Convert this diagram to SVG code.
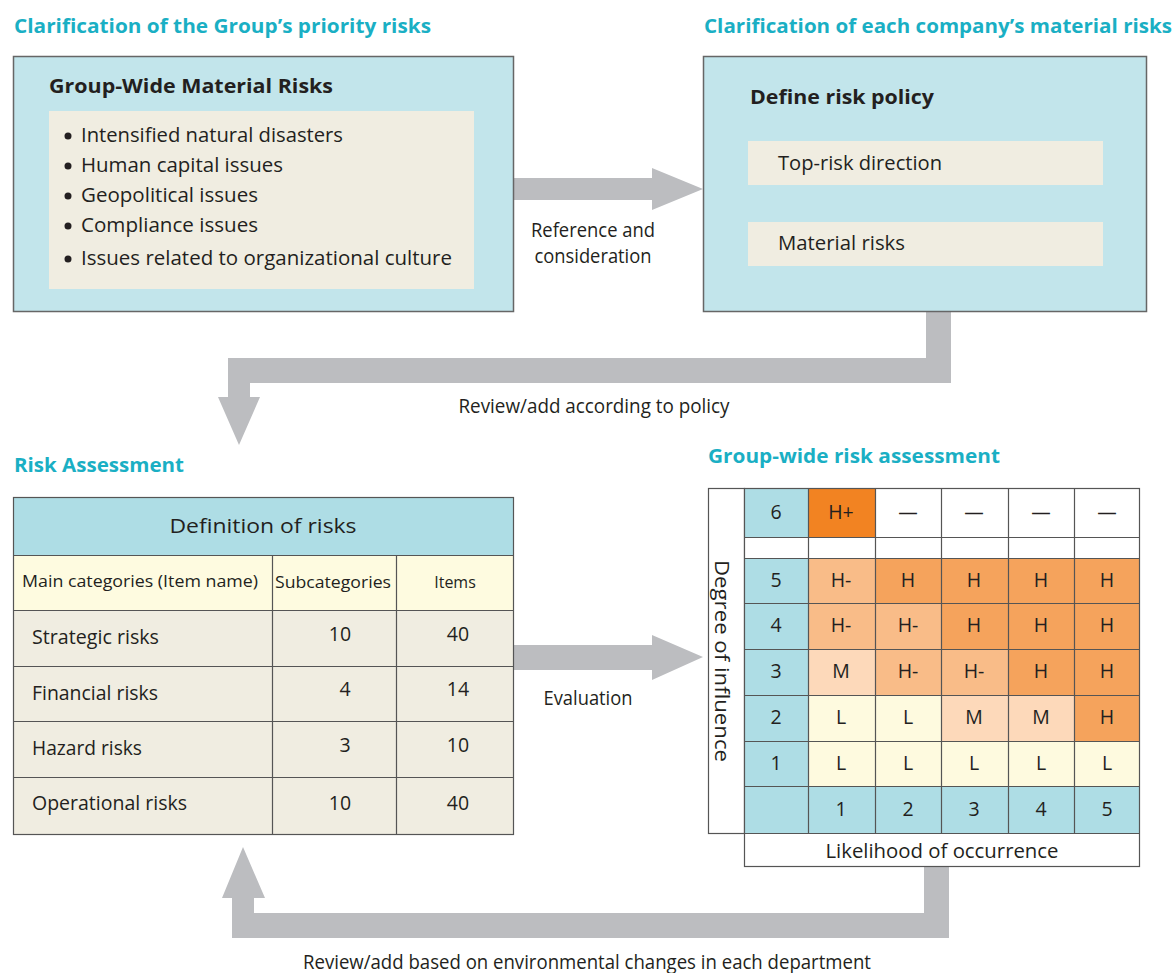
<svg xmlns="http://www.w3.org/2000/svg" width="1176" height="973" viewBox="0 0 1176 973">
<style>
.title{font-family:"Open Sans","Noto Sans",sans-serif;font-weight:700;font-size:19.5px;fill:#1AAFC4}
.bold{font-family:"Open Sans","Noto Sans",sans-serif;font-weight:700;font-size:20px;fill:#231F20}
.t{font-family:"Open Sans","Noto Sans",sans-serif;font-size:19.5px;fill:#231F20}
.b{font-family:"Open Sans","Noto Sans",sans-serif;font-size:20.2px;fill:#231F20}
.s{font-family:"Open Sans","Noto Sans",sans-serif;font-size:16px;fill:#231F20}
.m{font-family:"Open Sans","Noto Sans",sans-serif;font-size:19.5px;fill:#231F20;text-anchor:middle}
.lbl{font-family:"Open Sans","Noto Sans",sans-serif;font-size:19.5px;fill:#231F20;text-anchor:middle}
.box{fill:#C2E5EB;stroke:#666;stroke-width:1.5}
.beige{fill:#F0EDE1}
.arrow{fill:#BCBDC0}
.g{stroke:#555;stroke-width:1.2}
.teal{fill:#AEDDE5}
.hp{fill:#F28322}.h{fill:#F5A35C}.hm{fill:#F9BC88}.md{fill:#FDD9BA}.l{fill:#FEFADF}.w{fill:#FFFFFF}
</style>

<g id="connectors">
  <path class="arrow" d="M514,178 H652 V168 L703,189 L652,210 V200 H514 Z"/>
  <text class="lbl" x="593" y="237" textLength="124" lengthAdjust="spacingAndGlyphs">Reference and</text>
  <text class="lbl" x="593" y="263" textLength="117" lengthAdjust="spacingAndGlyphs">consideration</text>

  <path class="arrow" d="M926,312 H951 V383 H250 V397 H260 L239,445 L218,397 H228 V358 H926 Z"/>
  <text class="lbl" x="594" y="413" textLength="271" lengthAdjust="spacingAndGlyphs">Review/add according to policy</text>

  <path class="arrow" d="M514,645 H652 V635 L703,657 L652,680 V670 H514 Z"/>
  <text class="lbl" x="588" y="705" textLength="89" lengthAdjust="spacingAndGlyphs">Evaluation</text>

  <path class="arrow" d="M924,867 H949 V938 H232 V898 H222 L243,847 L265,898 H254 V913 H924 Z"/>
  <text class="lbl" x="587" y="969" textLength="568" lengthAdjust="spacingAndGlyphs">Review/add based on environmental changes in each department</text>
</g>

<g id="group-risks">
  <text class="title" x="14" y="33" textLength="417" lengthAdjust="spacingAndGlyphs">Clarification of the Group’s priority risks</text>
  <rect class="box" x="13.5" y="56.5" width="500" height="255"/>
  <text class="bold" x="49" y="93" textLength="284" lengthAdjust="spacingAndGlyphs">Group-Wide Material Risks</text>
  <rect class="beige" x="49" y="111" width="425" height="178"/>
  <g class="b">
    <circle cx="68" cy="136" r="3.5" fill="#231F20"/><text x="81" y="142" textLength="262" lengthAdjust="spacingAndGlyphs">Intensified natural disasters</text>
    <circle cx="68" cy="166" r="3.5" fill="#231F20"/><text x="81" y="172" textLength="202" lengthAdjust="spacingAndGlyphs">Human capital issues</text>
    <circle cx="68" cy="196" r="3.5" fill="#231F20"/><text x="81" y="202" textLength="177" lengthAdjust="spacingAndGlyphs">Geopolitical issues</text>
    <circle cx="68" cy="226" r="3.5" fill="#231F20"/><text x="81" y="232" textLength="177" lengthAdjust="spacingAndGlyphs">Compliance issues</text>
    <circle cx="68" cy="259" r="3.5" fill="#231F20"/><text x="81" y="265" textLength="371" lengthAdjust="spacingAndGlyphs">Issues related to organizational culture</text>
  </g>
</g>

<g id="company-risks">
  <text class="title" x="704" y="33" textLength="468" lengthAdjust="spacingAndGlyphs">Clarification of each company’s material risks</text>
  <rect class="box" x="703.5" y="56.5" width="443" height="255"/>
  <text class="bold" x="750" y="104" textLength="184" lengthAdjust="spacingAndGlyphs">Define risk policy</text>
  <rect class="beige" x="748" y="141" width="355" height="44"/>
  <text class="t" x="778" y="170" textLength="164" lengthAdjust="spacingAndGlyphs">Top-risk direction</text>
  <rect class="beige" x="748" y="222" width="355" height="44"/>
  <text class="t" x="778" y="250" textLength="127" lengthAdjust="spacingAndGlyphs">Material risks</text>
</g>

<g id="risk-assessment">
  <text class="title" x="14" y="472" textLength="170" lengthAdjust="spacingAndGlyphs">Risk Assessment</text>
  <rect class="teal" x="13" y="497" width="501" height="58"/>
  <rect fill="#FEFBE0" x="13" y="555" width="501" height="55"/>
  <rect class="beige" x="13" y="610" width="501" height="225"/>
  <g class="g" fill="none">
    <rect x="13.5" y="497.5" width="500" height="337"/>
    <line x1="13" y1="555.5" x2="514" y2="555.5"/>
    <line x1="13" y1="610.5" x2="514" y2="610.5"/>
    <line x1="13" y1="666.5" x2="514" y2="666.5"/>
    <line x1="13" y1="721.5" x2="514" y2="721.5"/>
    <line x1="13" y1="777.5" x2="514" y2="777.5"/>
    <line x1="272.5" y1="555" x2="272.5" y2="835"/>
    <line x1="396.5" y1="555" x2="396.5" y2="835"/>
  </g>
  <text class="lbl" x="263" y="533" textLength="187" lengthAdjust="spacingAndGlyphs">Definition of risks</text>
  <text class="s" x="22" y="587" textLength="236" lengthAdjust="spacingAndGlyphs">Main categories (Item name)</text>
  <text class="s" x="333" y="588" text-anchor="middle" textLength="116" lengthAdjust="spacingAndGlyphs">Subcategories</text>
  <text class="s" x="455" y="588" text-anchor="middle">Items</text>
  <g class="t">
    <text x="32" y="644" textLength="127" lengthAdjust="spacingAndGlyphs">Strategic risks</text>
    <text x="32" y="700" textLength="126" lengthAdjust="spacingAndGlyphs">Financial risks</text>
    <text x="32" y="755" textLength="110" lengthAdjust="spacingAndGlyphs">Hazard risks</text>
    <text x="32" y="810" textLength="155" lengthAdjust="spacingAndGlyphs">Operational risks</text>
  </g>
  <g class="lbl">
    <text x="340" y="641">10</text><text x="458" y="641">40</text>
    <text x="345" y="696">4</text><text x="458" y="696">14</text>
    <text x="345" y="752">3</text><text x="458" y="752">10</text>
    <text x="340" y="810">10</text><text x="458" y="810">40</text>
  </g>
</g>

<g id="risk-matrix">
  <text class="title" x="708" y="463" textLength="292" lengthAdjust="spacingAndGlyphs">Group-wide risk assessment</text>
  <rect class="w g" x="708.5" y="488.5" width="36" height="345"/>
  <text class="t" transform="translate(715,661) rotate(90)" text-anchor="middle" textLength="202" lengthAdjust="spacingAndGlyphs">Degree of influence</text>
  <rect class="teal" x="744" y="488" width="64" height="49"/>
  <rect class="hp" x="808" y="488" width="67" height="49"/>
  <rect class="w" x="875" y="488" width="265" height="49"/>
  <rect class="w" x="744" y="537" width="396" height="21"/>
  <rect class="teal" x="744" y="558" width="64" height="228"/>
  <rect class="hm" x="808" y="558" width="67" height="45"/>
  <rect class="h" x="875" y="558" width="265" height="45"/>
  <rect class="hm" x="808" y="603" width="133" height="46"/>
  <rect class="h" x="941" y="603" width="199" height="46"/>
  <rect class="md" x="808" y="649" width="67" height="46"/>
  <rect class="hm" x="875" y="649" width="133" height="46"/>
  <rect class="h" x="1008" y="649" width="132" height="46"/>
  <rect class="l" x="808" y="695" width="133" height="46"/>
  <rect class="md" x="941" y="695" width="133" height="46"/>
  <rect class="h" x="1074" y="695" width="66" height="46"/>
  <rect class="l" x="808" y="741" width="332" height="45"/>
  <rect class="teal" x="744" y="786" width="396" height="47"/>
  <rect class="w" x="744" y="833" width="396" height="34"/>
  <g class="g" fill="none">
    <rect x="744.5" y="488.5" width="395" height="378"/>
    <line x1="744" y1="537.5" x2="1140" y2="537.5"/>
    <line x1="744" y1="558.5" x2="1140" y2="558.5"/>
    <line x1="744" y1="603.5" x2="1140" y2="603.5"/>
    <line x1="744" y1="649.5" x2="1140" y2="649.5"/>
    <line x1="744" y1="695.5" x2="1140" y2="695.5"/>
    <line x1="744" y1="741.5" x2="1140" y2="741.5"/>
    <line x1="744" y1="786.5" x2="1140" y2="786.5"/>
    <line x1="708" y1="833.5" x2="1140" y2="833.5"/>
    <line x1="808.5" y1="488" x2="808.5" y2="833"/>
    <line x1="875.5" y1="488" x2="875.5" y2="833"/>
    <line x1="941.5" y1="488" x2="941.5" y2="833"/>
    <line x1="1008.5" y1="488" x2="1008.5" y2="833"/>
    <line x1="1074.5" y1="488" x2="1074.5" y2="833"/>
  </g>
  <g class="m">
    <text x="776" y="519">6</text><text x="841" y="519">H+</text><text x="908" y="519">—</text><text x="974" y="519">—</text><text x="1041" y="519">—</text><text x="1107" y="519">—</text>
    <text x="776" y="587">5</text><text x="841" y="587">H-</text><text x="908" y="587">H</text><text x="974" y="587">H</text><text x="1041" y="587">H</text><text x="1107" y="587">H</text>
    <text x="776" y="632">4</text><text x="841" y="632">H-</text><text x="908" y="632">H-</text><text x="974" y="632">H</text><text x="1041" y="632">H</text><text x="1107" y="632">H</text>
    <text x="776" y="678">3</text><text x="841" y="678">M</text><text x="908" y="678">H-</text><text x="974" y="678">H-</text><text x="1041" y="678">H</text><text x="1107" y="678">H</text>
    <text x="776" y="724">2</text><text x="841" y="724">L</text><text x="908" y="724">L</text><text x="974" y="724">M</text><text x="1041" y="724">M</text><text x="1107" y="724">H</text>
    <text x="776" y="770">1</text><text x="841" y="770">L</text><text x="908" y="770">L</text><text x="974" y="770">L</text><text x="1041" y="770">L</text><text x="1107" y="770">L</text>
    <text x="841" y="816">1</text><text x="908" y="816">2</text><text x="974" y="816">3</text><text x="1041" y="816">4</text><text x="1107" y="816">5</text>
    <text x="942" y="858" textLength="233" lengthAdjust="spacingAndGlyphs">Likelihood of occurrence</text>
  </g>
</g>
</svg>
